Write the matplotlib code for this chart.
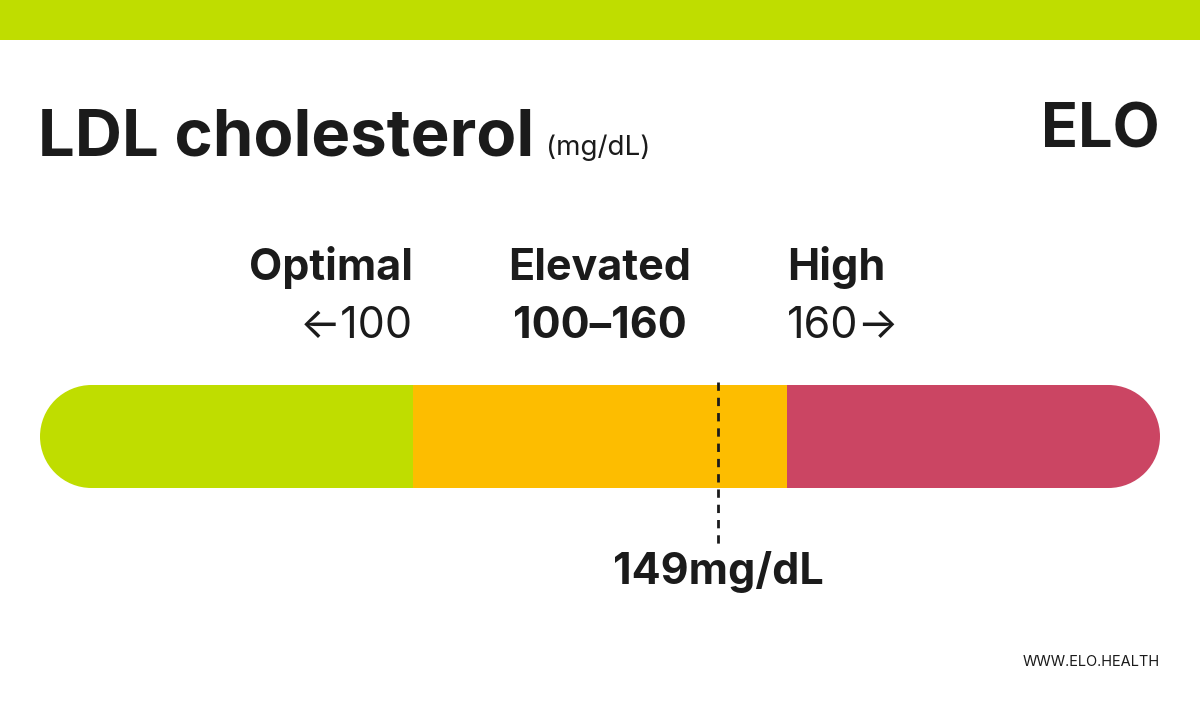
import matplotlib
matplotlib.use("Agg")
import matplotlib.pyplot as plt
from matplotlib.patches import Rectangle, Circle

categories = ["Optimal", "Elevated", "High"]
ranges = ["←100", "100–160", "160→"]
thresholds = [100, 160]
colors = ["#BFDD00", "#FDBD00", "#CB4563"]
value = 149

plt.rcParams['font.family'] = ['Inter', 'DejaVu Sans']
dark = "#1b1b1b"
fig = plt.figure(figsize=(12, 7.1), dpi=100)
ax = fig.add_axes([0, 0, 1, 1])
ax.set_xlim(0, 1200); ax.set_ylim(710, 0); ax.axis('off')

ax.add_patch(Rectangle((0, 0), 1200, 40, color="#BFDD00", lw=0))
ax.text(38, 155, "LDL cholesterol", fontsize=47, fontweight='bold', color=dark, va='baseline')
ax.text(546, 155, "(mg/dL)", fontsize=20, color=dark, va='baseline')
ax.text(1160, 148, "ELO", fontsize=44, fontweight='bold', color=dark, va='baseline', ha='right')
ax.text(1160, 666, "WWW.ELO.HEALTH", fontsize=10.5, color=dark, va='baseline', ha='right')

x0, x1, y0, y1 = 40, 1160, 385, 488
r = (y1 - y0) / 2
seg = (x1 - x0) / 3
for i, c in enumerate(colors):
    a = x0 + i * seg; b = a + seg
    if i == 0: a += r
    if i == 2: b -= r
    ax.add_patch(Rectangle((a, y0), b - a, y1 - y0, color=c, lw=0))
ax.add_patch(Circle((x0 + r, y0 + r), r, color=colors[0], lw=0))
ax.add_patch(Circle((x1 - r, y0 + r), r, color=colors[2], lw=0))

edges = [x0 + seg, x0 + 2 * seg]
xs = [(edges[0], 'right'), ((edges[0] + edges[1]) / 2, 'center'), (edges[1], 'left')]
for (x, ha), cat, rg, w in zip(xs, categories, ranges, ['normal', 'bold', 'normal']):
    ax.text(x, 280, cat, fontsize=31, fontweight='bold', color=dark, ha=ha, va='baseline')
    ax.text(x, 338, rg, fontsize=31, fontweight=w, color=dark, ha=ha, va='baseline',
            family=['Inter', 'DejaVu Sans'])

mx = edges[0] + (value - thresholds[0]) / (thresholds[1] - thresholds[0]) * seg
ax.plot([mx, mx], [382, 550], color=dark, lw=2, ls=(0, (3, 2.5)))
ax.text(mx, 584, f"{value}mg/dL", fontsize=31, fontweight='bold', color=dark, ha='center', va='baseline')

fig.savefig("out.png", dpi=100, facecolor='white')
